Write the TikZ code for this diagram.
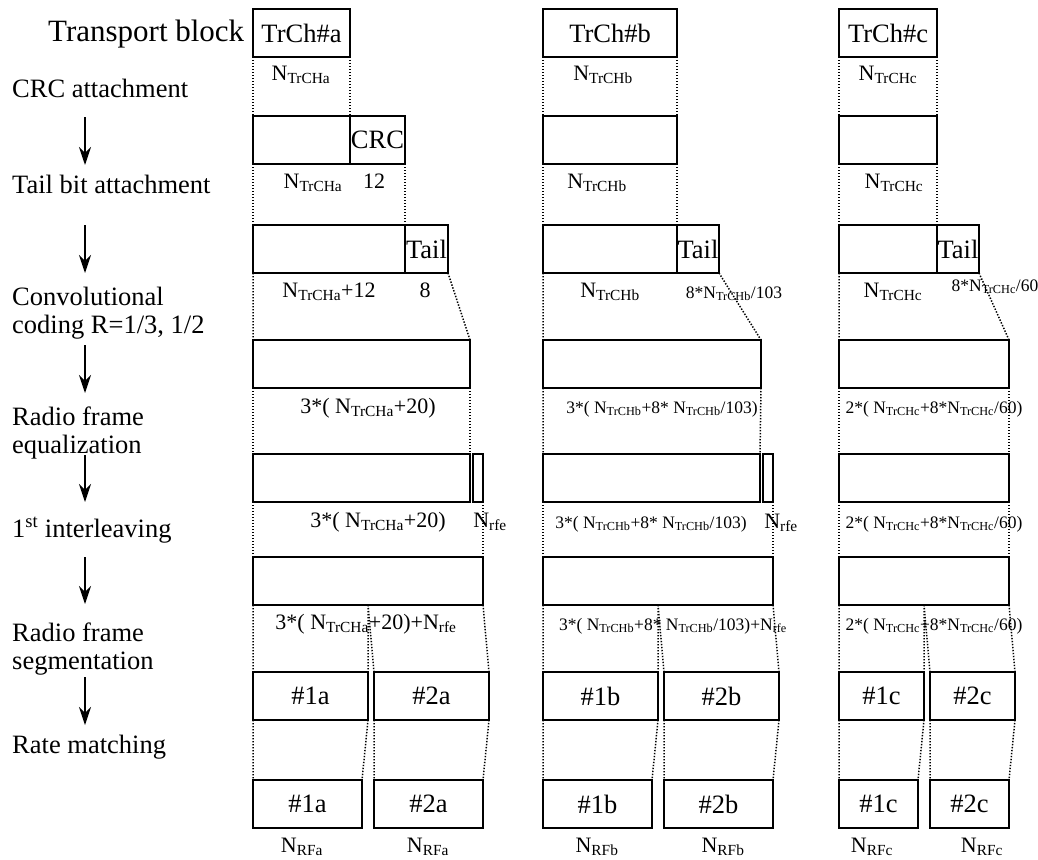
\documentclass[tikz,border=0pt]{standalone}
\usepackage{fontspec}
\setmainfont{Liberation Serif}
\usetikzlibrary{arrows.meta}

\newcommand{\Nx}[1]{N\textsubscript{#1}}

\begin{document}
\begin{tikzpicture}[x=1pt, y=-1pt,
  blk/.style={draw, line width=1.8pt, inner sep=0pt, outer sep=0pt, minimum height=48pt, anchor=north west, font=\fontsize{26.5}{28}\selectfont},
  gap/.style={line width=1.5pt, dash pattern=on 1.4pt off 1.6pt},
  flow/.style={line width=1.4pt, -{Stealth[length=18pt, width=12pt, inset=6pt]}},
  stage/.style={anchor=base west, align=left, inner sep=0pt, font=\fontsize{26.5}{28}\selectfont},
  bits/.style={anchor=base, inner sep=0pt, font=\fontsize{22}{24}\selectfont},
  bitsfine/.style={anchor=base, inner sep=0pt, font=\fontsize{17.5}{20}\selectfont}]
  \useasboundingbox (0,0) rectangle (1038,859);

  % Processing steps
  \node[stage, font=\fontsize{31}{34}\selectfont] (tb) at (48,42) {Transport block};
  \node[stage] (crc) at (12,97) {CRC attachment};
  \node[stage] (tail) at (12,193) {Tail bit attachment};
  \node[stage] (conv) at (12,333) {Convolutional\\coding R=1/3, 1/2};
  \node[stage] (equ) at (12,453) {Radio frame\\equalization};
  \node[stage] (il) at (12,537) {1\textsuperscript{st} interleaving};
  \node[stage] (seg) at (12,669) {Radio frame\\segmentation};
  \node[stage] (rm) at (12,753) {Rate matching};

  % Arrows between steps
  \foreach \t/\b [count=\i] in {117/165, 225/273, 345/393, 455/502, 557/604, 677/725} {
    \coordinate (up\i) at (85,\t);
    \coordinate (dn\i) at (85,\b);
    \draw[flow] (up\i) -- (dn\i);
  }

  % TrCh a
  \node[blk, minimum width=97pt] (a1) at (253,9) {TrCh\#a};
  \node[blk, minimum width=97pt] (a2) at (253,116) {};
  \node[blk, minimum width=55pt] (a2c) at (350,116) {CRC};
  \node[blk, minimum width=152pt] (a3) at (253,225) {};
  \node[blk, minimum width=43pt] (a3t) at (405,225) {Tail};
  \node[blk, minimum width=217pt] (a4) at (253,340) {};
  \node[blk, minimum width=217pt] (a5) at (253,454) {};
  \node[blk, minimum width=10pt] (a5r) at (473,454) {};
  \node[blk, minimum width=230pt] (a6) at (253,557) {};
  \node[blk, minimum width=115pt] (a7l) at (253,672) {\#1a};
  \node[blk, minimum width=115pt] (a7r) at (374,672) {\#2a};
  \node[blk, minimum width=109pt] (a8l) at (253,780) {\#1a};
  \node[blk, minimum width=109pt] (a8r) at (374,780) {\#2a};

  \node[bits] (na1) at (301,80) {\Nx{TrCHa}};
  \node[bits] (na2) at (313,188) {\Nx{TrCHa}};
  \node[bits] (crcn) at (374,188) {12};
  \node[bits] (na3) at (329,297) {\Nx{TrCHa}+12};
  \node[bits] (tailn) at (425,297) {8};
  \node[bits] (na4) at (368,413) {3*( \Nx{TrCHa}+20)};
  \node[bits] (na5) at (378,527) {3*( \Nx{TrCHa}+20)};
  \node[bits] (rfea) at (490,527) {\Nx{rfe}};
  \node[bits] (na6) at (366,629) {3*( \Nx{TrCHa}+20)+\Nx{rfe}};
  \node[bits] (rfa1) at (302,852) {\Nx{RFa}};
  \node[bits] (rfa2) at (428,852) {\Nx{RFa}};

  \draw[gap] (a1.south west) -- (a2.north west) (a1.south east) -- (a2.north east);
  \draw[gap] (a2.south west) -- (a3.north west) (a2c.south east) -- (a3.north east);
  \draw[gap] (a3.south west) -- (a4.north west) (a3t.south east) -- (a4.north east);
  \draw[gap] (a4.south west) -- (a5.north west) (a4.south east) -- (a5.north east);
  \draw[gap] (a5.south west) -- (a6.north west) (a5r.south east) -- (a6.north east);
  \draw[gap] (a6.south west) -- (a7l.north west) (a7l.north east |- a6.south) -- (a7l.north east)
    (a7l.north east |- a6.south) -- (a7r.north west) (a6.south east) -- (a7r.north east);
  \draw[gap] (a7l.south west) -- (a8l.north west) (a7l.south east) -- (a8l.north east)
    (a7r.south west) -- (a8r.north west) (a7r.south east) -- (a8r.north east);

  % TrCh b
  \node[blk, minimum width=134pt] (b1) at (543,9) {TrCh\#b};
  \node[blk, minimum width=134pt] (b2) at (543,116) {};
  \node[blk, minimum width=134pt] (b3) at (543,225) {};
  \node[blk, minimum width=42pt] (b3t) at (677,225) {Tail};
  \node[blk, minimum width=218pt] (b4) at (543,340) {};
  \node[blk, minimum width=217pt] (b5) at (543,454) {};
  \node[blk, minimum width=10pt] (b5r) at (763,454) {};
  \node[blk, minimum width=230pt] (b6) at (543,557) {};
  \node[blk, minimum width=115pt] (b7l) at (543,672) {\#1b};
  \node[blk, minimum width=115pt] (b7r) at (664,672) {\#2b};
  \node[blk, minimum width=109pt] (b8l) at (543,780) {\#1b};
  \node[blk, minimum width=109pt] (b8r) at (664,780) {\#2b};

  \node[bits] (nb1) at (603,80) {\Nx{TrCHb}};
  \node[bits] (nb2) at (597,188) {\Nx{TrCHb}};
  \node[bits] (nb3) at (610,297) {\Nx{TrCHb}};
  \node[bitsfine] (tailb) at (734,298) {8*\Nx{TrCHb}/103};
  \node[bitsfine] (nb4) at (662,413) {3*( \Nx{TrCHb}+8* \Nx{TrCHb}/103)};
  \node[bitsfine] (nb5) at (651,528) {3*( \Nx{TrCHb}+8* \Nx{TrCHb}/103)};
  \node[bits] (rfeb) at (781,528) {\Nx{rfe}};
  \node[bitsfine] (nb6) at (673,630) {3*( \Nx{TrCHb}+8* \Nx{TrCHb}/103)+\Nx{rfe}};
  \node[bits] (rfb1) at (597,852) {\Nx{RFb}};
  \node[bits] (rfb2) at (723,852) {\Nx{RFb}};

  \draw[gap] (b1.south west) -- (b2.north west) (b1.south east) -- (b2.north east);
  \draw[gap] (b2.south west) -- (b3.north west) (b2.south east) -- (b3.north east);
  \draw[gap] (b3.south west) -- (b4.north west) (b3t.south east) -- (b4.north east);
  \draw[gap] (b4.south west) -- (b5.north west) (b4.south east) -- (b5.north east);
  \draw[gap] (b5.south west) -- (b6.north west) (b5r.south east) -- (b6.north east);
  \draw[gap] (b6.south west) -- (b7l.north west) (b7l.north east |- b6.south) -- (b7l.north east)
    (b7l.north east |- b6.south) -- (b7r.north west) (b6.south east) -- (b7r.north east);
  \draw[gap] (b7l.south west) -- (b8l.north west) (b7l.south east) -- (b8l.north east)
    (b7r.south west) -- (b8r.north west) (b7r.south east) -- (b8r.north east);

  % TrCh c
  \node[blk, minimum width=98pt] (c1) at (839,9) {TrCh\#c};
  \node[blk, minimum width=98pt] (c2) at (839,116) {};
  \node[blk, minimum width=98pt] (c3) at (839,225) {};
  \node[blk, minimum width=42pt] (c3t) at (937,225) {Tail};
  \node[blk, minimum width=170pt] (c4) at (839,340) {};
  \node[blk, minimum width=170pt] (c5) at (839,454) {};
  \node[blk, minimum width=170pt] (c6) at (839,557) {};
  \node[blk, minimum width=85pt] (c7l) at (839,672) {\#1c};
  \node[blk, minimum width=85pt] (c7r) at (930,672) {\#2c};
  \node[blk, minimum width=79pt] (c8l) at (839,780) {\#1c};
  \node[blk, minimum width=79pt] (c8r) at (930,780) {\#2c};

  \node[bits] (nc1) at (888,80) {\Nx{TrCHc}};
  \node[bits] (nc2) at (894,188) {\Nx{TrCHc}};
  \node[bits] (nc3) at (893,297) {\Nx{TrCHc}};
  \node[bitsfine] (tailc) at (995,291) {8*\Nx{TrCHc}/60};
  \node[bitsfine] (nc4) at (934,413) {2*( \Nx{TrCHc}+8*\Nx{TrCHc}/60)};
  \node[bitsfine] (nc5) at (934,528) {2*( \Nx{TrCHc}+8*\Nx{TrCHc}/60)};
  \node[bitsfine] (nc6) at (934,630) {2*( \Nx{TrCHc}+8*\Nx{TrCHc}/60)};
  \node[bits] (rfc1) at (872,852) {\Nx{RFc}};
  \node[bits] (rfc2) at (982,852) {\Nx{RFc}};

  \draw[gap] (c1.south west) -- (c2.north west) (c1.south east) -- (c2.north east);
  \draw[gap] (c2.south west) -- (c3.north west) (c2.south east) -- (c3.north east);
  \draw[gap] (c3.south west) -- (c4.north west) (c3t.south east) -- (c4.north east);
  \draw[gap] (c4.south west) -- (c5.north west) (c4.south east) -- (c5.north east);
  \draw[gap] (c5.south west) -- (c6.north west) (c5.south east) -- (c6.north east);
  \draw[gap] (c6.south west) -- (c7l.north west) (c7l.north east |- c6.south) -- (c7l.north east)
    (c7l.north east |- c6.south) -- (c7r.north west) (c6.south east) -- (c7r.north east);
  \draw[gap] (c7l.south west) -- (c8l.north west) (c7l.south east) -- (c8l.north east)
    (c7r.south west) -- (c8r.north west) (c7r.south east) -- (c8r.north east);
\end{tikzpicture}
\end{document}
